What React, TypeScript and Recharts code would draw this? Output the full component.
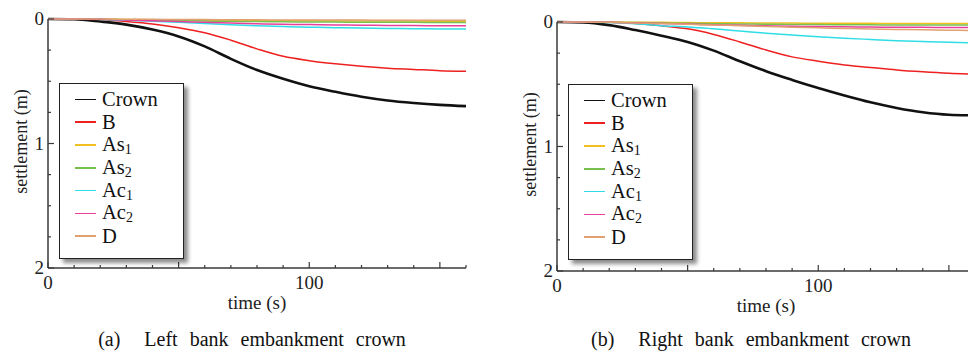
import React from "react";
import { LineChart, Line, XAxis, YAxis } from "recharts";

// time in seconds
const time = [0, 10, 20, 30, 40, 50, 60, 70, 80, 90, 100, 110, 120, 130, 140, 150, 160];

// (a) left bank, settlement in m
const crownL = [0, 0.002, 0.02, 0.045, 0.085, 0.14, 0.22, 0.32, 0.41, 0.48, 0.54, 0.585, 0.625, 0.655, 0.675, 0.69, 0.7];
const bL = [0, 0, 0.005, 0.02, 0.04, 0.07, 0.11, 0.17, 0.24, 0.3, 0.335, 0.36, 0.38, 0.395, 0.405, 0.415, 0.42];
const as1L = [0, 0, 0.002, 0.004, 0.006, 0.008, 0.01, 0.012, 0.013, 0.014, 0.015, 0.016, 0.016, 0.017, 0.017, 0.018, 0.018];
const as2L = [0, 0, 0.003, 0.006, 0.01, 0.013, 0.016, 0.019, 0.021, 0.023, 0.024, 0.025, 0.026, 0.027, 0.027, 0.028, 0.028];
const ac1L = [0, 0, 0.004, 0.01, 0.018, 0.027, 0.037, 0.047, 0.055, 0.061, 0.066, 0.07, 0.073, 0.076, 0.078, 0.08, 0.081];
const ac2L = [0, 0, 0.003, 0.008, 0.014, 0.02, 0.027, 0.033, 0.038, 0.042, 0.045, 0.048, 0.05, 0.052, 0.053, 0.054, 0.055];
const dL = [0, 0, 0.001, 0.002, 0.003, 0.004, 0.005, 0.006, 0.007, 0.008, 0.008, 0.009, 0.009, 0.01, 0.01, 0.01, 0.01];

// (b) right bank
const crownR = [0, 0.003, 0.025, 0.065, 0.11, 0.16, 0.23, 0.315, 0.395, 0.465, 0.53, 0.59, 0.645, 0.69, 0.725, 0.745, 0.75];
const bR = [0, 0, 0.003, 0.012, 0.03, 0.055, 0.1, 0.16, 0.225, 0.28, 0.315, 0.345, 0.365, 0.385, 0.4, 0.412, 0.42];
const as1R = [0, 0, 0.001, 0.002, 0.003, 0.005, 0.006, 0.007, 0.008, 0.009, 0.01, 0.011, 0.011, 0.012, 0.012, 0.012, 0.012];
const as2R = [0, 0, 0.002, 0.005, 0.008, 0.011, 0.014, 0.016, 0.018, 0.02, 0.021, 0.022, 0.023, 0.024, 0.024, 0.025, 0.025];
const ac1R = [0, 0, 0.005, 0.015, 0.03, 0.04, 0.055, 0.072, 0.09, 0.105, 0.118, 0.13, 0.14, 0.15, 0.157, 0.163, 0.167];
const ac2R = [0, 0, 0.003, 0.007, 0.012, 0.017, 0.022, 0.027, 0.031, 0.034, 0.037, 0.039, 0.041, 0.042, 0.043, 0.044, 0.045];
const dR = [0, 0, 0.003, 0.008, 0.013, 0.018, 0.024, 0.03, 0.036, 0.042, 0.047, 0.052, 0.056, 0.06, 0.063, 0.066, 0.068];

const seriesKeys = ["crown", "b", "as1", "as2", "ac1", "ac2", "d"];
const seriesNames = ["Crown", "B", "As", "As", "Ac", "Ac", "D"];
const seriesSubs = ["", "", "1", "2", "1", "2", ""];
const seriesColors = ["#111111", "#ee2020", "#f0c020", "#78c050", "#30dde6", "#e8409a", "#e0a070"];

const xTicks = [0, 10, 20, 30, 40, 50, 60, 70, 80, 90, 100, 110, 120, 130, 140, 150, 160];
const xLabels = [0, 100];
const yTicks = [0, 0.25, 0.5, 0.75, 1, 1.25, 1.5, 1.75, 2];
const yLabels = [0, 1, 2];

const serif = "Liberation Serif, Times New Roman, serif";
const axisColor = "#3a3a3a";

const makeRows = (cols: number[][]) =>
  time.map((t, i) => {
    const row: any = { t };
    seriesKeys.forEach((k, j) => (row[k] = cols[j][i]));
    return row;
  });

const leftData = makeRows([crownL, bL, as1L, as2L, ac1L, ac2L, dL]);
const rightData = makeRows([crownR, bR, as1R, as2R, ac1R, ac2R, dR]);

function XTick({ x, y, payload, dir, labels }: any) {
  const v = payload.value;
  const len = v % 50 === 0 ? 6 : 3;
  return (
    <g>
      <line x1={x} x2={x} y1={y} y2={y + dir * len} stroke={axisColor} strokeWidth={1.2} />
      {labels && xLabels.includes(v) && (
        <text x={x} y={y + 21} textAnchor="middle" fontSize={19} fontFamily={serif} fill="#222">
          {v}
        </text>
      )}
    </g>
  );
}

function YTick({ x, y, payload, dir, labels }: any) {
  const v = payload.value;
  const len = Number.isInteger(v) ? 6 : 3;
  return (
    <g>
      <line x1={x} x2={x + dir * len} y1={y} y2={y} stroke={axisColor} strokeWidth={1.2} />
      {labels && yLabels.includes(v) && (
        <text x={x - 4} y={y + 6} textAnchor="end" fontSize={19} fontFamily={serif} fill="#222">
          {v}
        </text>
      )}
    </g>
  );
}

const TimeLabel = ({ viewBox }: any) => (
  <text x={viewBox.x + viewBox.width / 2} y={viewBox.y + 41} textAnchor="middle" fontSize={19} fontFamily={serif} fill="#222">
    time (s)
  </text>
);

const SettleLabel = ({ viewBox }: any) => {
  const cx = viewBox.x + 21;
  const cy = viewBox.y + viewBox.height / 2 - 2;
  return (
    <text x={cx} y={cy + 6} transform={`rotate(-90, ${cx}, ${cy})`} textAnchor="middle" fontSize={18} fontFamily={serif} fill="#222">
      settlement (m)
    </text>
  );
};

function LegendBox({ left, top }: any) {
  return (
    <div
      style={{
        position: "absolute",
        left,
        top,
        width: 125,
        height: 176,
        boxSizing: "border-box",
        border: "1.5px solid #222",
        background: "#fff",
        boxShadow: "4px 4px 4px rgba(0,0,0,0.45)",
        padding: "4px 0 0 15px",
        fontFamily: serif,
        color: "#111",
      }}
    >
      {seriesNames.map((name, i) => (
        <div key={i} style={{ display: "flex", alignItems: "center", height: 22.8 }}>
          <span style={{ width: 21, height: 1.5, background: seriesColors[i], marginRight: 6 }} />
          <span style={{ fontSize: 20.5, lineHeight: "18px" }}>
            {name}
            {seriesSubs[i] && <sub style={{ fontSize: 14, lineHeight: "10px", verticalAlign: -3 }}>{seriesSubs[i]}</sub>}
          </span>
        </div>
      ))}
    </div>
  );
}

function Panel({ data, left, top }: any) {
  return (
    <div style={{ position: "absolute", left, top: 0 }}>
      <LineChart width={478} height={356} data={data} margin={{ top, right: 12, bottom: 85 - top, left: 0 }}>
        <XAxis
          dataKey="t"
          type="number"
          domain={[0, 160]}
          ticks={xTicks}
          interval={0}
          height={22}
          tickSize={0}
          tickMargin={0}
          axisLine={{ stroke: axisColor, strokeWidth: 1.5 }}
          tick={<XTick dir={-1} labels />}
          label={<TimeLabel />}
        />
        <XAxis
          xAxisId="top"
          orientation="top"
          dataKey="t"
          type="number"
          domain={[0, 160]}
          ticks={xTicks}
          interval={0}
          height={0}
          tickSize={0}
          tickMargin={0}
          axisLine={{ stroke: axisColor, strokeWidth: 1.5 }}
          tick={<XTick dir={1} />}
        />
        <YAxis
          type="number"
          domain={[0, 2]}
          reversed
          ticks={yTicks}
          interval={0}
          width={48}
          tickSize={0}
          tickMargin={0}
          axisLine={{ stroke: axisColor, strokeWidth: 1.5 }}
          tick={<YTick dir={1} labels />}
          label={<SettleLabel />}
        />
        <YAxis
          yAxisId="r"
          orientation="right"
          type="number"
          domain={[0, 2]}
          reversed
          ticks={yTicks}
          interval={0}
          width={0}
          tickSize={0}
          tickMargin={0}
          axisLine={{ stroke: axisColor, strokeWidth: 1.5 }}
          tick={<YTick dir={-1} />}
        />
        {/* invisible series so the mirrored frame axes get drawn */}
        <Line xAxisId="top" yAxisId="r" dataKey="crown" stroke="none" dot={false} isAnimationActive={false} />
        {seriesKeys.map((k, i) => (
          <Line
            key={k}
            dataKey={k}
            name={seriesNames[i]}
            type="monotone"
            stroke={seriesColors[i]}
            strokeWidth={i === 0 ? 2.6 : 1.5}
            dot={false}
            isAnimationActive={false}
          />
        ))}
      </LineChart>
    </div>
  );
}

const captionStyle: React.CSSProperties = {
  position: "absolute",
  top: 328,
  width: 400,
  textAlign: "center",
  fontFamily: serif,
  fontSize: 20,
  wordSpacing: 7,
  whiteSpace: "pre",
  color: "#111",
};

export default function App() {
  return (
    <div style={{ position: "absolute", left: 0, top: 0, width: 968, height: 356, overflow: "hidden", background: "#fff" }}>
      <Panel data={leftData} left={0} top={19} />
      <Panel data={rightData} left={509} top={22} />
      <LegendBox left={59} top={83} />
      <LegendBox left={568} top={84} />
      <div style={{ ...captionStyle, left: 52 }}>(a)  Left bank embankment crown</div>
      <div style={{ ...captionStyle, left: 551 }}>(b)  Right bank embankment crown</div>
    </div>
  );
}
